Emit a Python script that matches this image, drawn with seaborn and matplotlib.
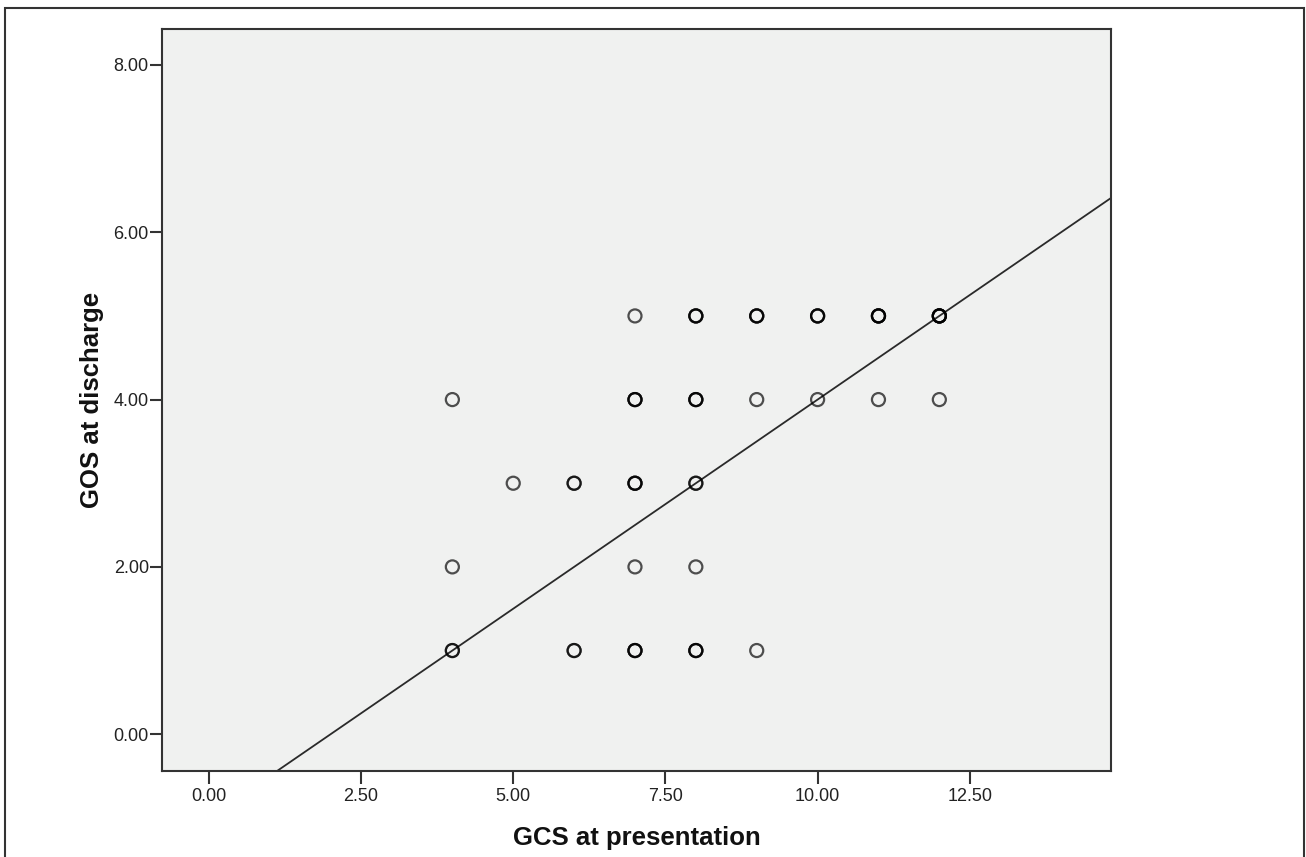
import matplotlib
matplotlib.use("Agg")
import matplotlib.pyplot as plt
import seaborn as sns
import pandas as pd
from matplotlib.patches import Rectangle

# Data (x=GCS, y=GOS, count = overlapping cases)
gcs   = [7, 8, 9, 10, 11, 12,  4, 7, 8, 9, 10, 11, 12,  5, 6, 7, 8,  4, 7, 8,  4, 6, 7, 8, 9]
gos   = [5, 5, 5, 5, 5, 5,     4, 4, 4, 4, 4, 4, 4,     3, 3, 3, 3,  2, 2, 2,  1, 1, 1, 1, 1]
count = [1, 3, 3, 3, 4, 5,     1, 3, 3, 1, 1, 1, 1,     1, 2, 3, 2,  1, 1, 1,  2, 2, 3, 3, 1]

fit_intercept = -1.0
fit_slope = 0.5

x_ticks = [0.0, 2.5, 5.0, 7.5, 10.0, 12.5]
y_ticks = [0.0, 2.0, 4.0, 6.0, 8.0]

rows = []
for xv, yv, c in zip(gcs, gos, count):
    rows += [(xv, yv)] * c
df = pd.DataFrame(rows, columns=["GCS at presentation", "GOS at discharge"])

sns.set_style("ticks")
plt.rcParams["font.family"] = ["Liberation Sans", "DejaVu Sans"]

W, H = 1306, 857
fig = plt.figure(figsize=(W / 100, H / 100), dpi=100)
L, R, T, B = 162, 1111, 29, 771
ax = fig.add_axes([L / W, 1 - B / H, (R - L) / W, (B - T) / H])
ax.set_facecolor("#f0f1f0")

sns.scatterplot(data=df, x="GCS at presentation", y="GOS at discharge", ax=ax,
                marker="o", s=88, facecolor="none", edgecolor="#000000",
                linewidth=1.6, alpha=0.68, zorder=3)

ax.axline((0, fit_intercept), slope=fit_slope, color="#2a2a2a", lw=1.3, zorder=2)

ax.set_xlim(-0.77, 14.82)
ax.set_ylim(-0.44, 8.43)
ax.set_xticks(x_ticks)
ax.set_yticks(y_ticks)
ax.set_xticklabels([f"{v:.2f}" for v in x_ticks])
ax.set_yticklabels([f"{v:.2f}" for v in y_ticks])
ax.tick_params(axis="both", direction="out", length=9, width=1.5, color="#333333",
               labelsize=13, labelcolor="#222222")
ax.tick_params(axis="x", pad=3.5)
ax.tick_params(axis="y", pad=0.5)
for sp in ax.spines.values():
    sp.set_visible(True)
    sp.set_color("#333333")
    sp.set_linewidth(1.5)

ax.set_xlabel("GCS at presentation", fontsize=18.5, fontweight="bold", color="#111111")
ax.set_ylabel("GOS at discharge", fontsize=18.5, fontweight="bold", color="#111111")
ax.xaxis.set_label_coords(0.5, -(838 - B) / (B - T))
ax.yaxis.set_label_coords(-(L - 92) / (R - L), 0.5)
ax.xaxis.label.set_va("center")
ax.yaxis.label.set_va("center")

fig.patches.append(Rectangle((5 / W, -0.05), 1299 / W, 1.05 - 8 / H,
                             transform=fig.transFigure, fill=False,
                             edgecolor="#333333", linewidth=1.5))

fig.savefig("out.png", dpi=100)
